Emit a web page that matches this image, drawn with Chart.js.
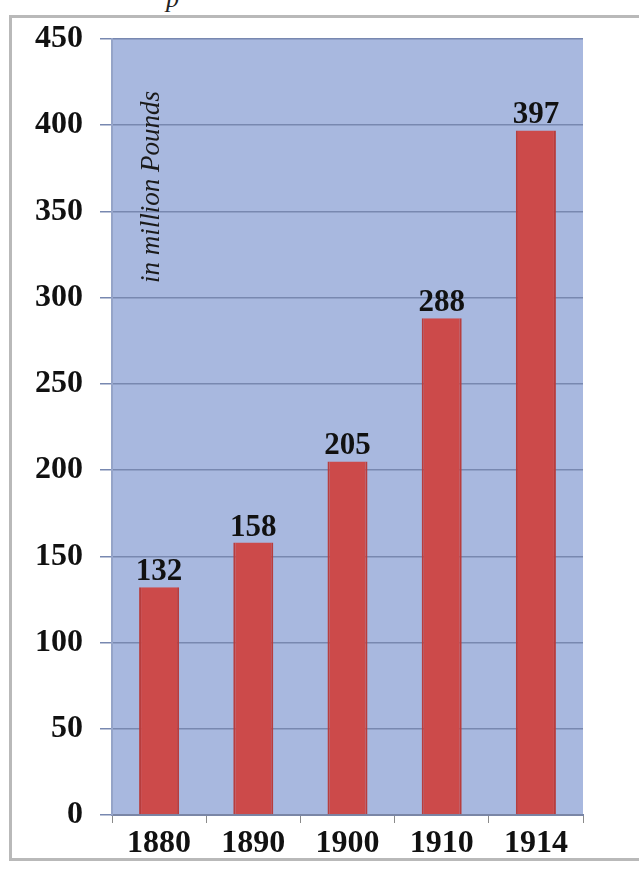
<!DOCTYPE html>
<html>
<head>
<meta charset="utf-8">
<script src="https://cdn.jsdelivr.net/npm/chart.js"></script>
<style>
  html, body { margin: 0; padding: 0; background: #ffffff; }
  #wrap { position: relative; width: 639px; height: 870px; overflow: hidden; }
  #frame {
    position: absolute; left: 9px; top: 15px; width: 660px; height: 846px;
    border: 3px solid #b9b9b9; box-sizing: border-box;
  }
  #caption {
    position: absolute; left: 166px; top: -16px;
    font: italic 26px 'Liberation Serif', 'Times New Roman', serif; color: #222;
  }
  #chart { position: absolute; left: 0; top: 0; }
</style>
</head>
<body>
<div id="wrap">
  <div id="caption">p</div>
  <div id="frame"></div>
  <canvas id="chart" width="639" height="870"></canvas>
</div>
<script>
// data
const years = ["1880", "1890", "1900", "1910", "1914"];
const exportValues = [132, 158, 205, 288, 397];
const yTicks = [0, 50, 100, 150, 200, 250, 300, 350, 400, 450];
const unitLabel = "in million Pounds";

const serifFamily = "'Liberation Serif', 'Times New Roman', serif";
const serifBold = { family: serifFamily, size: 32, weight: "bold" };

// blue plot background
const plotBackground = {
  id: "plotBackground",
  beforeDraw(chart) {
    const { ctx, chartArea } = chart;
    ctx.save();
    ctx.fillStyle = "#a8b8df";
    ctx.fillRect(chartArea.left, chartArea.top, chartArea.right - chartArea.left, chartArea.bottom - chartArea.top);
    ctx.restore();
  }
};

// value on top of each bar
const barValues = {
  id: "barValues",
  afterDatasetsDraw(chart) {
    const { ctx } = chart;
    const meta = chart.getDatasetMeta(0);
    ctx.save();
    ctx.font = `bold 31px ${serifFamily}`;
    ctx.fillStyle = "#111111";
    ctx.textAlign = "center";
    ctx.textBaseline = "alphabetic";
    meta.data.forEach((bar, i) => {
      ctx.fillText(String(exportValues[i]), bar.x, bar.y - 7);
    });
    ctx.restore();
  }
};

// rotated unit text inside the plot
const unitText = {
  id: "unitText",
  afterDraw(chart) {
    const { ctx, chartArea } = chart;
    ctx.save();
    ctx.translate(chartArea.left + 40, chartArea.top + 148);
    ctx.rotate(-Math.PI / 2);
    ctx.font = `italic 27px ${serifFamily}`;
    ctx.fillStyle = "#1a1a1a";
    ctx.textAlign = "center";
    ctx.textBaseline = "middle";
    ctx.fillText(unitLabel, 0, 0);
    ctx.restore();
  }
};

new Chart(document.getElementById("chart"), {
  type: "bar",
  data: {
    labels: years,
    datasets: [{
      data: exportValues,
      backgroundColor: "#cc4a4a",
      borderColor: "#b83d3d",
      borderWidth: { left: 2, right: 2, top: 0, bottom: 0 },
      categoryPercentage: 0.85,
      barPercentage: 0.5
    }]
  },
  options: {
    responsive: false,
    animation: false,
    layout: { padding: { top: 39, right: 56, bottom: 0, left: 0 } },
    plugins: {
      legend: { display: false },
      tooltip: { enabled: false }
    },
    scales: {
      x: {
        offset: true,
        grid: {
          offset: true,
          drawOnChartArea: false,
          drawTicks: true,
          tickLength: 8,
          color: "#8a8a8a"
        },
        border: { display: true, color: "#7a86a6", width: 2 },
        ticks: { color: "#111111", font: serifBold, padding: 2 },
        afterFit(scale) { scale.height = 55; }
      },
      y: {
        min: 0,
        max: 450,
        afterBuildTicks(scale) { scale.ticks = yTicks.map(v => ({ value: v })); },
        grid: {
          color: "#7888b0",
          lineWidth: 1.5,
          tickLength: 12,
          drawTicks: true
        },
        border: { display: true, color: "#95a4c8", width: 2 },
        ticks: { color: "#111111", font: serifBold, padding: 17 },
        afterFit(scale) { scale.width = 112; }
      }
    }
  },
  plugins: [plotBackground, barValues, unitText]
});
</script>
</body>
</html>
